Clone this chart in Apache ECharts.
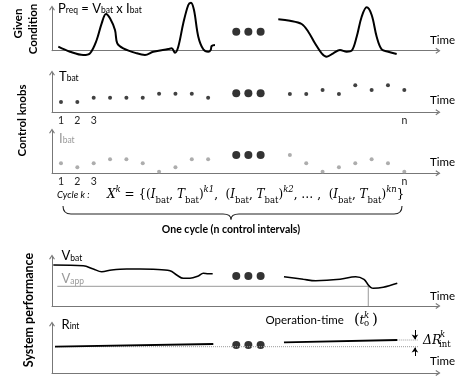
<!DOCTYPE html>
<html><head><meta charset="utf-8">
<script src="https://cdn.jsdelivr.net/npm/echarts@6/dist/echarts.min.js"></script>
<style>html,body{margin:0;padding:0;background:#fff}#c{width:459px;height:381px}</style>
</head><body><div id="c"></div>
<script>
const SANS = 'Lato';
const SERIF = 'DejaVu Serif';
// time axis in control-interval units
const tMin = -0.55, tMax = 23.06;
const tickPos = [0, 1, 2, 21];
const tickLabels = ['1', '2', '3', 'n'];
const ellipsisT = [10.72, 11.46, 12.21];
const ellipsisLevel = [19, 19, 18.3, 30, 28];

// Given condition: P_req
const preqT1 = [-0.165,0.55,1.364,1.774,2.183,2.489,2.752,2.997,3.303,3.443,3.810,4.630,5.138,5.645,6.563,6.771,6.972,7.174,7.480,7.786,7.951,8.135,8.398,8.703,9.009,9.156,9.217,9.419];
const preqV1 = [4,-1,-4.3,-2.6,10.7,27.4,36.7,32.4,20.7,7.4,2.4,-2.6,-4.3,-1,1.7,2.4,-2,4,27.4,45.7,48,40.7,14,1.4,-1,0.7,4.7,5.7];
const preqT2 = [13.291,14.006,14.722,15.125,15.535,15.945,16.251,16.654,17.064,17.474,17.780,18.086,18.391,18.697,19.003,19.309,19.615,20.018,20.532];
const preqV2 = [31.4,30,26.7,19,7.4,-2.6,-6,-2.6,0.7,-1,0,14,34,43.4,35.7,14,1.4,-1,-3.3];

// Control knobs
const idxA = [0,1,2,3,4,5,6,7,8,9];
const idxB = [14,15,16,17,18,19,20,21];
const tbatA = [10.3,10.3,14.6,14.6,14.6,14.6,18.6,18.6,18.6,14.6];
const tbatB = [18.3,18.3,22.3,18.3,27,22.3,27,22.3];
const ibatA = [10,6,10,14,14,10,1.6,6,14,14];
const ibatB = [18.3,10,1.6,6,10,14,10,1.6];

// System performance
const vbatT1 = [-0.471,1.364,1.976,2.489,3.101,4.018,4.832,5.645,6.667,7.076,7.480,7.890,8.398,8.703,9.009,9.278];
const vbatV1 = [41,40.3,37,34.3,36,37,37,36.7,35.3,31,27.7,27.7,30,32.7,32.3,32.3];
const vbatT2 = [13.639,14.820,15.578,17.064,18.024,18.532,18.795,18.942,19.101,19.712,20.569];
const vbatV2 = [29.3,26.7,25.3,26.7,29.3,26.7,21,18.7,17.7,18.7,22.7];
const vappT = [-0.226, 18.795];
const vappLevel = 19.7;
const opTime = 18.795;
const rintT1 = [-0.367, 9.315], rintV1 = [26.3, 29];
const rintT2 = [13.639, 20.569], rintV2 = [30.7, 33];
const refEndT = 21.835;
const deltaT = 21.65;

const zip = (a, b) => a.map((v, i) => [v, b[i]]);

const grids = [
  {left: 52, top: 8, width: 386, height: 42.7},
  {left: 52, top: 73, width: 386, height: 39.3},
  {left: 52, top: 131, width: 386, height: 42.3},
  {left: 52, top: 257, width: 386, height: 49},
  {left: 52, top: 324, width: 386, height: 49}
];
const chevron = 'path://M5,0L10,7.5L8.4,8.5L5,3.2L1.6,8.5L0,7.5Z';
const axisLine = {show: true, onZero: false, symbol: ['none', chevron], symbolSize: [6, 5], lineStyle: {color: '#777', width: 1}};

const xAxes = grids.map((g, i) => ({
  gridIndex: i, type: 'value', min: tMin, max: tMax,
  axisLine, axisTick: {show: false}, splitLine: {show: false},
  axisLabel: (i === 1 || i === 2) ? {
    show: true, customValues: tickPos, margin: 3, fontFamily: SANS, fontSize: 10.5, color: '#222',
    formatter: v => tickLabels[tickPos.indexOf(Math.round(v))] || ''
  } : {show: false}
}));
const yAxes = grids.map((g, i) => ({
  gridIndex: i, type: 'value', min: 0, max: g.height,
  axisLine, axisTick: {show: false}, splitLine: {show: false}, axisLabel: {show: false}
}));

const line = (i, data, w, color, extra) => Object.assign({
  type: 'line', xAxisIndex: i, yAxisIndex: i, data, showSymbol: false, symbol: 'none',
  smooth: 0.35, clip: false, silent: true, animation: false,
  lineStyle: {color: color || '#000', width: w}
}, extra || {});
const dots = (i, data, size, color) => ({
  type: 'scatter', xAxisIndex: i, yAxisIndex: i, data, symbolSize: size,
  itemStyle: {color}, clip: false, silent: true, animation: false
});

const series = [
  line(0, zip(preqT1, preqV1), 2),
  line(0, zip(preqT2, preqV2), 2),
  dots(1, zip(idxA, tbatA), 4, '#111'),
  dots(1, zip(idxB, tbatB), 4, '#111'),
  dots(2, zip(idxA, ibatA), 4, '#999'),
  dots(2, zip(idxB, ibatB), 4, '#999'),
  line(3, [[vappT[0], vappLevel], [vappT[1], vappLevel], [opTime, 0]], 1, '#999', {smooth: false}),
  line(3, zip(vbatT1, vbatV1), 1.6),
  line(3, zip(vbatT2, vbatV2), 1.6),
  line(4, [[rintT1[0], rintV1[0]], [refEndT, rintV1[0]]], 1, '#999', {smooth: false, lineStyle: {color: '#999', width: 1, type: 'dotted'}}),
  line(4, [[rintT2[1], rintV2[1]], [refEndT, rintV2[1]]], 1, '#999', {smooth: false, lineStyle: {color: '#999', width: 1, type: 'dotted'}}),
  line(4, zip(rintT1, rintV1), 1.8, '#000', {smooth: false}),
  line(4, zip(rintT2, rintV2), 1.8, '#000', {smooth: false}),
  {
    type: 'lines', coordinateSystem: 'cartesian2d', xAxisIndex: 4, yAxisIndex: 4,
    symbol: ['none', 'arrow'], symbolSize: 5, silent: true, animation: false,
    lineStyle: {color: '#000', width: 1, opacity: 1, curveness: 0},
    data: [{coords: [[deltaT, 43], [deltaT, 33.6]]}, {coords: [[deltaT, 17], [deltaT, 25.4]]}]
  }
];
ellipsisLevel.forEach((lv, i) => series.push(dots(i, ellipsisT.map(t => [t, lv]), 8, '#000')));

const txt = (x, y, text, o) => ({type: 'text', x, y, silent: true, rotation: o && o.rot || 0,
  style: Object.assign({text, fill: '#000', font: (o && o.font) || `12px ${SANS}`, align: 'left', verticalAlign: 'middle'}, o && o.style || {})});

const subRich = (color) => ({
  b: {fontFamily: SANS, fontSize: 13, fill: color, color, verticalAlign: 'bottom'},
  s: {fontFamily: SANS, fontSize: 8.5, fill: color, color, verticalAlign: 'bottom'}
});

const formulaRich = {
  n: {fontFamily: SERIF, fontSize: 12, lineHeight: 20, verticalAlign: 'middle', fill: '#000'},
  i: {fontFamily: SERIF, fontStyle: 'italic', fontSize: 12, lineHeight: 20, verticalAlign: 'middle', fill: '#000'},
  p: {fontFamily: SERIF, fontStyle: 'italic', fontSize: 8.5, lineHeight: 11, verticalAlign: 'top', fill: '#000'},
  b: {fontFamily: SERIF, fontSize: 8.5, lineHeight: 12, verticalAlign: 'bottom', fill: '#000'}
};
const pair = (sup) => `{i|I}{b|bat}{n|, }{i|T}{b|bat}{n|)}{p|${sup}}`;
const formula = `{i|X}{p|k}{n| = {(}${pair('k1')}{n|,  (}${pair('k2')}{n|, … ,  (}${pair('kn')}{n|}}`;

const stroke = {fill: 'none', stroke: '#222', lineWidth: 1.1};
const graphic = [
  txt(18, 23.5, 'Given', {rot: Math.PI / 2, style: {font: `bold 11.5px ${SANS}`, align: 'center'}}),
  txt(33, 29, 'Condition', {rot: Math.PI / 2, style: {font: `bold 11.5px ${SANS}`, align: 'center'}}),
  txt(22, 120.5, 'Control knobs', {rot: Math.PI / 2, style: {font: `bold 11.5px ${SANS}`, align: 'center'}}),
  txt(29, 310, 'System performance', {rot: Math.PI / 2, style: {font: `bold 12.5px ${SANS}`, align: 'center'}}),
  txt(58, 8.5, '{b|P}{s|req}{b| = V}{s|bat}{b| x I}{s|bat}', {style: {rich: subRich('#000')}}),
  txt(59, 76.5, '{b|T}{s|bat}', {style: {rich: subRich('#000')}}),
  txt(59, 138.5, '{b|I}{s|bat}', {style: {rich: subRich('#9a9a9a'), fill: '#9a9a9a'}}),
  txt(61.5, 256, '{b|V}{s|bat}', {style: {rich: subRich('#000')}}),
  txt(61.5, 279, '{b|V}{s|app}', {style: {rich: subRich('#9a9a9a'), fill: '#9a9a9a'}}),
  txt(61.5, 324.5, '{b|R}{s|int}', {style: {rich: subRich('#000')}}),
  txt(430, 40, 'Time', {style: {font: `11.5px ${SANS}`}}),
  txt(430, 100.5, 'Time', {style: {font: `11.5px ${SANS}`}}),
  txt(430, 162, 'Time', {style: {font: `11.5px ${SANS}`}}),
  txt(430, 296.5, 'Time', {style: {font: `11.5px ${SANS}`}}),
  txt(430, 361.5, 'Time', {style: {font: `11.5px ${SANS}`}}),
  txt(57, 195, 'Cycle k :', {style: {font: `italic 9.5px ${SANS}`}}),
  txt(107, 195, formula, {style: {rich: formulaRich, font: `12px ${SERIF}`}}),
  {type: 'bezierCurve', silent: true, shape: {x1: 63, y1: 206, cpx1: 63, cpy1: 214, x2: 71, y2: 214}, style: stroke},
  {type: 'line', silent: true, shape: {x1: 71, y1: 214, x2: 223, y2: 214}, style: stroke},
  {type: 'bezierCurve', silent: true, shape: {x1: 223, y1: 214, cpx1: 231, cpy1: 214, x2: 231, y2: 219.5}, style: stroke},
  {type: 'bezierCurve', silent: true, shape: {x1: 231, y1: 219.5, cpx1: 231, cpy1: 214, x2: 239, y2: 214}, style: stroke},
  {type: 'line', silent: true, shape: {x1: 239, y1: 214, x2: 394, y2: 214}, style: stroke},
  {type: 'bezierCurve', silent: true, shape: {x1: 394, y1: 214, cpx1: 402, cpy1: 214, x2: 402, y2: 206}, style: stroke},
  txt(231, 230, 'One cycle (n control intervals)', {style: {font: `bold 10.5px ${SANS}`, align: 'center'}}),
  txt(265.5, 320, 'Operation-time', {style: {font: `11.5px ${SANS}`}}),
  txt(354, 320, '(', {style: {font: `15px ${SERIF}`}}),
  txt(359.5, 320.5, 't', {style: {font: `italic 12px ${SERIF}`}}),
  txt(364, 315.5, 'k', {style: {font: `italic 8.5px ${SERIF}`}}),
  txt(364, 324, 'o', {style: {font: `8.5px ${SERIF}`}}),
  txt(372, 320, ')', {style: {font: `15px ${SERIF}`}}),
  txt(423, 340.5, 'ΔR', {style: {font: `italic 12.5px ${SERIF}`}}),
  txt(440, 335, 'k', {style: {font: `italic 8.5px ${SERIF}`}}),
  txt(439, 345, 'int', {style: {font: `8.5px ${SERIF}`}})
];

const chart = echarts.init(document.getElementById('c'), null, {renderer: 'canvas'});
chart.setOption({
  animation: false,
  backgroundColor: '#fff',
  grid: grids,
  xAxis: xAxes,
  yAxis: yAxes,
  series,
  graphic
});
</script></body></html>
